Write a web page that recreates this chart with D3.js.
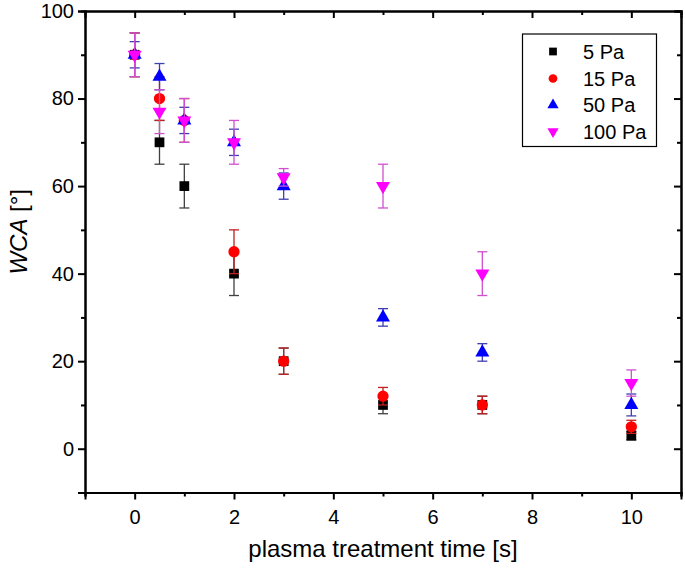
<!DOCTYPE html>
<html><head><meta charset="utf-8">
<script src="https://cdn.jsdelivr.net/npm/d3@7"></script>
<style>body{margin:0;background:#fff}svg{display:block}text{font-family:"Liberation Sans",Arial,sans-serif}</style>
</head><body><svg id="c" width="685" height="571"></svg>
<script>
const times = [0, 0.5, 1, 2, 3, 5, 7, 10];
const seriesNames = ["5 Pa", "15 Pa", "50 Pa", "100 Pa"];
const wca5 = [90, 70, 60, 40, 20, 10, 10, 3];
const err5 = [5, 5, 5, 5, 3, 2, 2, 1];
const wca15 = [90, 80, 75, 45, 20, 12, 10, 5];
const err15 = [5, 5, 5, 5, 3, 2, 2, 1.5];
const wca50 = [90, 85, 75, 70, 60, 30, 22, 10];
const err50 = [3, 3, 3, 3, 3, 2, 2, 2.5];
const wca100 = [90, 77, 75, 70, 62, 60, 40, 15];
const err100 = [5, 5, 5, 5, 2, 5, 5, 3];
const xTicks = [0, 2, 4, 6, 8, 10];
const yTicks = [0, 20, 40, 60, 80, 100];

const svg = d3.select("#c");
const L = 85, R = 681, T = 11, B = 492.5;
const x = d3.scaleLinear().domain([-1, 11]).range([L, R]);
const y = d3.scaleLinear().domain([-10, 100]).range([B, T]);

const series = [
  {name: seriesNames[0], v: wca5, e: err5, fill: "#000000", ebar: "#404040", sym: d3.symbolSquare, size: 95, lsize: 60},
  {name: seriesNames[1], v: wca15, e: err15, fill: "#ff0000", ebar: "#c02020", sym: d3.symbolCircle, size: 100, lsize: 60},
  {name: seriesNames[2], v: wca50, e: err50, fill: "#0000ff", ebar: "#4040b0", sym: d3.symbolTriangle, size: 85, lsize: 55},
  {name: seriesNames[3], v: wca100, e: err100, fill: "#ff00ff", ebar: "#d050d0", sym: d3.symbolTriangle, size: 85, lsize: 55, flip: true}
];

// axes
const ax = svg.append("g").attr("transform", `translate(0,${B})`)
  .call(d3.axisBottom(x).tickValues(xTicks).tickSize(7).tickPadding(10).tickFormat(d3.format("d")));
const axMinor = svg.append("g").attr("transform", `translate(0,${B})`)
  .call(d3.axisBottom(x).tickValues([-1,1,3,5,7,9,11]).tickSize(4).tickFormat(""));
const axTop = svg.append("g").attr("transform", `translate(0,${T})`)
  .call(d3.axisTop(x).tickValues(xTicks).tickSize(-7).tickFormat(""));
const axTopMinor = svg.append("g").attr("transform", `translate(0,${T})`)
  .call(d3.axisTop(x).tickValues([1,3,5,7,9]).tickSize(-4).tickFormat(""));
const ay = svg.append("g").attr("transform", `translate(${L},0)`)
  .call(d3.axisLeft(y).tickValues(yTicks).tickSize(7).tickPadding(4).tickFormat(d3.format("d")));
const ayMinor = svg.append("g").attr("transform", `translate(${L},0)`)
  .call(d3.axisLeft(y).tickValues([-10,10,30,50,70,90]).tickSize(4).tickFormat(""));
const ayR = svg.append("g").attr("transform", `translate(${R},0)`)
  .call(d3.axisRight(y).tickValues(yTicks).tickSize(-7).tickFormat(""));
const ayRMinor = svg.append("g").attr("transform", `translate(${R},0)`)
  .call(d3.axisRight(y).tickValues([10,30,50,70,90]).tickSize(-4).tickFormat(""));
[ax, axMinor, axTop, axTopMinor, ay, ayMinor, ayR, ayRMinor].forEach(g => {
  g.select(".domain").attr("stroke", "#000").attr("stroke-width", 2);
  g.selectAll(".tick line").attr("stroke", "#000").attr("stroke-width", 2);
  g.selectAll("text").attr("font-size", 20).attr("fill", "#000")
    .style("font-family", '"Liberation Sans",Arial,sans-serif');
});

// data
series.forEach(s => {
  const g = svg.append("g");
  const pts = times.map((t, i) => ({t, v: s.v[i], e: s.e[i]}));
  const cw = 5;
  pts.forEach(p => {
    const x0 = x(p.t), yt = y(p.v + p.e), yb = y(p.v - p.e);
    g.append("line").attr("x1", x0).attr("x2", x0).attr("y1", yt).attr("y2", yb)
      .attr("stroke", s.ebar).attr("stroke-width", 1.3);
    [yt, yb].forEach(yy => g.append("line").attr("x1", x0 - cw).attr("x2", x0 + cw)
      .attr("y1", yy).attr("y2", yy).attr("stroke", s.ebar).attr("stroke-width", 1.3));
  });
  g.selectAll("path.m").data(pts).join("path").attr("class", "m")
    .attr("d", d3.symbol().type(s.sym).size(s.size))
    .attr("transform", p => `translate(${x(p.t)},${y(p.v)})${s.flip ? " rotate(180)" : ""}`)
    .attr("fill", s.fill);
});

// legend
const lg = svg.append("g");
lg.append("rect").attr("x", 522.5).attr("y", 34).attr("width", 134).attr("height", 112.5)
  .attr("fill", "#fff").attr("stroke", "#000").attr("stroke-width", 1.2);
const ly = [51.5, 78.5, 105, 131.5];
series.forEach((s, i) => {
  lg.append("path").attr("d", d3.symbol().type(s.sym).size(s.lsize))
    .attr("transform", `translate(553,${ly[i]})${s.flip ? " rotate(180)" : ""}`)
    .attr("fill", s.fill);
  lg.append("text").attr("x", 583).attr("y", ly[i]).attr("dy", "0.36em")
    .attr("font-size", 20).text(s.name);
});

// titles
svg.append("text").attr("x", (L + R) / 2 + 0).attr("y", 557).attr("text-anchor", "middle")
  .attr("font-size", 24).text("plasma treatment time [s]");
const yl = svg.append("text").attr("transform", `translate(27,${(T + B) / 2 - 20}) rotate(-90)`)
  .attr("text-anchor", "middle").attr("font-size", 24);
yl.append("tspan").attr("font-style", "italic").text("WCA");
yl.append("tspan").text(" [°]");
</script></body></html>
